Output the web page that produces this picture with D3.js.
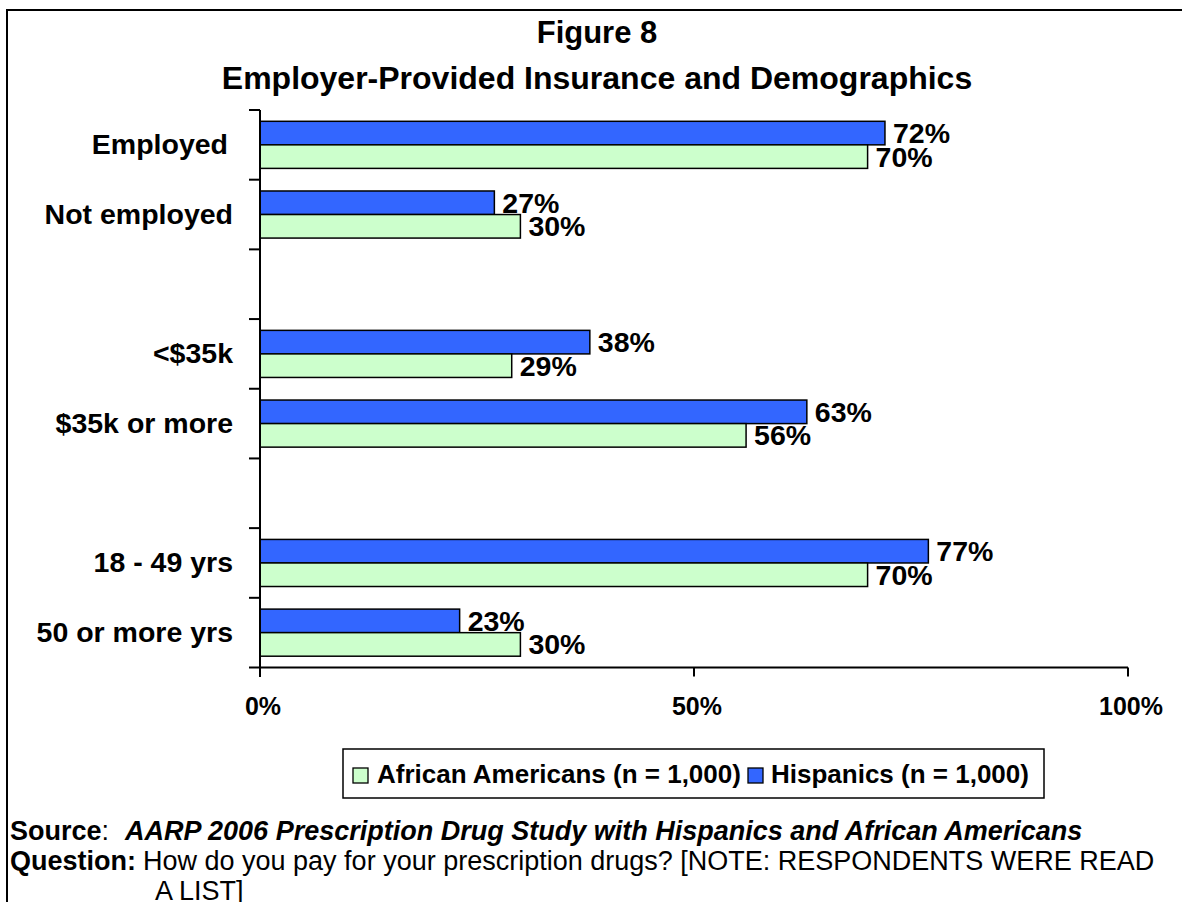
<!DOCTYPE html>
<html>
<head>
<meta charset="utf-8">
<script src="https://cdn.jsdelivr.net/npm/d3@7"></script>
<style>
  html, body { margin: 0; padding: 0; background: #fff; }
  svg { display: block; }
  text { font-family: "Liberation Sans", Arial, Helvetica, sans-serif; fill: #000; }
</style>
</head>
<body>
<svg id="chart" width="1182" height="902"></svg>
<script>
// ---- data ----
const categories = ["Employed", "Not employed", "", "<$35k", "$35k or more", "", "18 - 49 yrs", "50 or more yrs"];
const hispanics = [72, 27, null, 38, 63, null, 77, 23];
const africanAmericans = [70, 30, null, 29, 56, null, 70, 30];
const seriesNames = ["Hispanics", "African Americans"];
const legendLabels = ["African Americans (n = 1,000)", "Hispanics (n = 1,000)"];
const xTicks = [0, 50, 100];
const titleLines = ["Figure 8", "Employer-Provided Insurance and Demographics"];

const colors = { "Hispanics": "#3366FF", "African Americans": "#CCFFCC" };

const svg = d3.select("#chart");

// frame (top and left rules)
svg.append("line").attr("x1", 7).attr("x2", 1182).attr("y1", 10).attr("y2", 10)
  .attr("stroke", "#000").attr("stroke-width", 2);
svg.append("line").attr("x1", 7).attr("x2", 7).attr("y1", 9).attr("y2", 902)
  .attr("stroke", "#000").attr("stroke-width", 2);

// titles
svg.append("text").attr("x", 597).attr("y", 43).attr("text-anchor", "middle")
  .attr("font-size", 31).attr("font-weight", "bold").text(titleLines[0]);
svg.append("text").attr("x", 597).attr("y", 89).attr("text-anchor", "middle")
  .attr("font-size", 32).attr("font-weight", "bold").text(titleLines[1]);

// scales
const x = d3.scaleLinear().domain([0, 100]).range([260, 1128]);
const y = d3.scaleBand().domain(d3.range(categories.length)).range([110, 667.5]).padding(0);
const ySub = d3.scaleBand().domain(seriesNames).range([0, y.bandwidth()]).paddingInner(0).paddingOuter(0.48);

const rows = categories.map((c, i) => ({ i, c, vals: [
  { s: "Hispanics", v: hispanics[i] },
  { s: "African Americans", v: africanAmericans[i] }
]}));

// bars
const g = svg.append("g");
const rowG = g.selectAll("g.row").data(rows).join("g")
  .attr("transform", d => `translate(0,${y(d.i)})`);

rowG.selectAll("rect").data(d => d.vals.filter(v => v.v != null)).join("rect")
  .attr("x", x(0))
  .attr("y", d => ySub(d.s))
  .attr("width", d => x(d.v) - x(0))
  .attr("height", ySub.bandwidth())
  .attr("fill", d => colors[d.s])
  .attr("stroke", "#000")
  .attr("stroke-width", 1.5);

rowG.selectAll("text.val").data(d => d.vals.filter(v => v.v != null)).join("text")
  .attr("class", "val")
  .attr("x", d => x(d.v) + 8)
  .attr("y", d => ySub(d.s) + ySub.bandwidth() / 2 + 10)
  .attr("font-size", 28.5).attr("font-weight", "bold")
  .text(d => d.v + "%");

// category labels
svg.selectAll("text.cat").data(rows.filter(r => r.c !== "")).join("text")
  .attr("class", "cat")
  .attr("x", d => d.i === 0 ? 228 : 233)
  .attr("y", d => y(d.i) + y.bandwidth() / 2 + 9)
  .attr("text-anchor", "end")
  .attr("font-size", 28.5).attr("font-weight", "bold")
  .text(d => d.c);

// y axis line and ticks at band boundaries
const yBounds = d3.range(categories.length + 1).map(k => 110 + k * y.step());
svg.append("line").attr("x1", x(0)).attr("x2", x(0)).attr("y1", 110).attr("y2", 677)
  .attr("stroke", "#000").attr("stroke-width", 2);
svg.selectAll("line.ytick").data(yBounds).join("line")
  .attr("class", "ytick")
  .attr("x1", 249).attr("x2", x(0))
  .attr("y1", d => d).attr("y2", d => d)
  .attr("stroke", "#000").attr("stroke-width", 2);

// x axis
const xAxisY = yBounds[yBounds.length - 1];
svg.append("line").attr("x1", x(0)).attr("x2", x(100)).attr("y1", xAxisY).attr("y2", xAxisY)
  .attr("stroke", "#000").attr("stroke-width", 2);
svg.selectAll("line.xtick").data(xTicks).join("line")
  .attr("class", "xtick")
  .attr("x1", d => x(d)).attr("x2", d => x(d))
  .attr("y1", xAxisY).attr("y2", xAxisY + 9)
  .attr("stroke", "#000").attr("stroke-width", 2);
svg.selectAll("text.xlab").data(xTicks).join("text")
  .attr("class", "xlab")
  .attr("x", d => x(d) + 3)
  .attr("y", 715)
  .attr("text-anchor", "middle")
  .attr("font-size", 25).attr("font-weight", "bold")
  .text(d => d + "%");

// legend
svg.append("rect").attr("x", 343).attr("y", 749).attr("width", 701).attr("height", 49)
  .attr("fill", "#fff").attr("stroke", "#000").attr("stroke-width", 1.5);
const legendItems = [
  { label: legendLabels[0], color: colors["African Americans"], sx: 353, tx: 377 },
  { label: legendLabels[1], color: colors["Hispanics"], sx: 748, tx: 771 }
];
legendItems.forEach(it => {
  svg.append("rect").attr("x", it.sx).attr("y", 768).attr("width", 15).attr("height", 15)
    .attr("fill", it.color).attr("stroke", "#000").attr("stroke-width", 1.3);
  svg.append("text").attr("x", it.tx).attr("y", 783)
    .attr("font-size", 26).attr("font-weight", "bold").text(it.label);
});

// source / question notes
const src = svg.append("text").attr("x", 10).attr("y", 840).attr("font-size", 27);
src.append("tspan").attr("font-weight", "bold").text("Source");
src.append("tspan").text(":");
src.append("tspan").attr("dx", 16).attr("font-weight", "bold").attr("font-style", "italic")
  .text("AARP 2006 Prescription Drug Study with Hispanics and African Americans");

const q = svg.append("text").attr("x", 10).attr("y", 870).attr("font-size", 27);
q.append("tspan").attr("font-weight", "bold").text("Question:");
q.append("tspan").attr("dx", 7).text("How do you pay for your prescription drugs? [NOTE: RESPONDENTS WERE READ");

svg.append("text").attr("x", 155).attr("y", 900).attr("font-size", 27).text("A LIST]");
</script>
</body>
</html>
